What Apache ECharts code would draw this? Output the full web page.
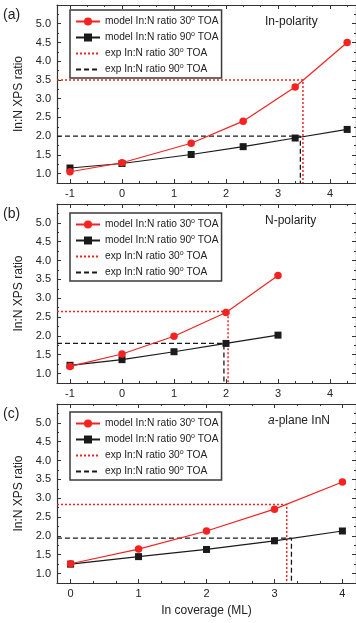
<!DOCTYPE html>
<html>
<head>
<meta charset="utf-8">
<script src="https://cdn.jsdelivr.net/npm/echarts@6/dist/echarts.min.js"></script>
<style>html,body{margin:0;padding:0;background:#fff;}#c{width:356px;height:623px;}</style>
</head>
<body>
<div id="c"></div>
<script>
// ---- data ----
const panelLabels = ['(a)', '(b)', '(c)'];
const panelTitles = ['In-polarity', 'N-polarity', 'a-plane InN'];
const yTicks = [1.0, 1.5, 2.0, 2.5, 3.0, 3.5, 4.0, 4.5, 5.0];
const yMinorTicks = [0.75, 1.25, 1.75, 2.25, 2.75, 3.25, 3.75, 4.25, 4.75, 5.25];
const xTicksAB = [-1, 0, 1, 2, 3, 4];
const xTicksC = [0, 1, 2, 3, 4];

const aX = [-1, 0, 1.33, 2.33, 3.33, 4.33];
const a30 = [1.05, 1.29, 1.81, 2.40, 3.31, 4.50];
const a90 = [1.15, 1.27, 1.51, 1.72, 1.95, 2.18];
const aExp30 = [3.48, 3.5];   // [coverage, ratio]
const aExp90 = [3.43, 2.0];

const bX = [-1, 0, 1, 2, 3];
const b30 = [1.19, 1.52, 1.99, 2.62, 3.60];
const b90 = [1.22, 1.37, 1.58, 1.80, 2.02];
const bExp30 = [2.04, 2.65];
const bExp90 = [1.96, 1.80];

const cX = [0, 1, 2, 3, 4];
const c30 = [1.26, 1.65, 2.13, 2.71, 3.43];
const c90 = [1.25, 1.45, 1.64, 1.87, 2.13];
const cExp30 = [3.18, 2.83];
const cExp90 = [3.25, 1.94];

const names = ['model In:N ratio 30° TOA', 'model In:N ratio 90° TOA', 'exp In:N ratio 30° TOA', 'exp In:N ratio 90° TOA'];

// ---- layout ----
const FONT = 'Liberation Sans, Arial, Helvetica, sans-serif';
const RED = '#f52222';
const BLK = '#1a1a1a';
const AX = '#333';
const Y_MIN = 0.75, Y_MAX = 5.5;
const panels = [
  {top: 5, height: 178, xMin: -1.25, xMax: 4.5, ticks: xTicksAB, x: aX, s30: a30, s90: a90, e30: aExp30, e90: aExp90, legTop: 10},
  {top: 204, height: 179, xMin: -1.25, xMax: 4.5, ticks: xTicksAB, x: bX, s30: b30, s90: b90, e30: bExp30, e90: bExp90, legTop: 213},
  {top: 404, height: 179, xMin: -0.2, xMax: 4.2, ticks: xTicksC, x: cX, s30: c30, s90: c90, e30: cExp30, e90: cExp90, legTop: 412}
];

function thirds(ticks, lo, hi) {
  const out = [];
  for (let i = -1; i < ticks.length; i++) {
    const t = i < 0 ? ticks[0] - 1 : ticks[i];
    [t + 1/3, t + 2/3].forEach(v => { if (v > lo && v < hi) out.push(v); });
  }
  return out;
}

const grid = [], xAxis = [], yAxis = [], series = [], legend = [], graphic = [];
panels.forEach((p, i) => {
  grid.push({left: 57, top: p.top, width: 302, height: p.height});
  const xi = xAxis.length, yi = yAxis.length;
  const minorX = thirds(p.ticks, p.xMin, p.xMax);
  const baseX = {type: 'value', gridIndex: i, min: p.xMin, max: p.xMax, splitLine: {show: false}};
  xAxis.push(Object.assign({}, baseX, {
    position: 'bottom',
    axisLine: {show: true, onZero: false, lineStyle: {color: AX, width: 1.2}},
    axisTick: {show: true, inside: true, length: 4, customValues: p.ticks, lineStyle: {color: AX}},
    axisLabel: {show: true, customValues: p.ticks, margin: 5, color: '#222', fontSize: 11, fontFamily: FONT},
    name: i === 2 ? 'In coverage (ML)' : '', nameLocation: 'middle', nameGap: 22,
    nameTextStyle: {fontSize: 12, color: '#222', fontFamily: FONT}
  }));
  xAxis.push(Object.assign({}, baseX, {
    position: 'bottom', axisLine: {show: false, onZero: false},
    axisTick: {show: true, inside: true, length: 2, customValues: minorX, lineStyle: {color: AX}},
    axisLabel: {show: false}
  }));
  xAxis.push(Object.assign({}, baseX, {
    position: 'top',
    axisLine: {show: true, onZero: false, lineStyle: {color: AX, width: 1.2}},
    axisTick: {show: true, inside: true, length: 4, customValues: p.ticks, lineStyle: {color: AX}},
    axisLabel: {show: false}
  }));
  xAxis.push(Object.assign({}, baseX, {
    position: 'top', axisLine: {show: false, onZero: false},
    axisTick: {show: true, inside: true, length: 2, customValues: minorX, lineStyle: {color: AX}},
    axisLabel: {show: false}
  }));
  const baseY = {type: 'value', gridIndex: i, min: Y_MIN, max: Y_MAX, splitLine: {show: false}};
  yAxis.push(Object.assign({}, baseY, {
    position: 'left',
    axisLine: {show: true, onZero: false, lineStyle: {color: AX, width: 1.2}},
    axisTick: {show: true, inside: true, length: 4, customValues: yTicks, lineStyle: {color: AX}},
    axisLabel: {show: true, customValues: yTicks, margin: 6, color: '#222', fontSize: 11, fontFamily: FONT,
      formatter: v => v.toFixed(1)},
    name: 'In:N XPS ratio', nameLocation: 'middle', nameGap: 27,
    nameTextStyle: {fontSize: 12, color: '#222', fontFamily: FONT}
  }));
  yAxis.push(Object.assign({}, baseY, {
    position: 'left', axisLine: {show: false, onZero: false},
    axisTick: {show: true, inside: true, length: 2, customValues: yMinorTicks, lineStyle: {color: AX}},
    axisLabel: {show: false}
  }));
  yAxis.push(Object.assign({}, baseY, {
    position: 'right',
    axisLine: {show: true, onZero: false, lineStyle: {color: AX, width: 1.2}},
    axisTick: {show: true, inside: true, length: 4, customValues: yTicks, lineStyle: {color: AX}},
    axisLabel: {show: false}
  }));
  yAxis.push(Object.assign({}, baseY, {
    position: 'right', axisLine: {show: false, onZero: false},
    axisTick: {show: true, inside: true, length: 2, customValues: yMinorTicks, lineStyle: {color: AX}},
    axisLabel: {show: false}
  }));

  const common = {xAxisIndex: xi, yAxisIndex: yi, animation: false, silent: true};
  series.push(Object.assign({}, common, {
    type: 'line', name: names[2], symbol: 'none', z: 1,
    lineStyle: {color: RED, width: 1.5, type: [2, 2]}, itemStyle: {color: RED},
    data: [[p.xMin, p.e30[1]], [p.e30[0], p.e30[1]], [p.e30[0], Y_MIN]]
  }));
  series.push(Object.assign({}, common, {
    type: 'line', name: names[3], symbol: 'none', z: 1,
    lineStyle: {color: BLK, width: 1.3, type: [5, 3]}, itemStyle: {color: BLK},
    data: [[p.xMin, p.e90[1]], [p.e90[0], p.e90[1]], [p.e90[0], Y_MIN]]
  }));
  series.push(Object.assign({}, common, {
    type: 'line', name: names[1], symbol: 'rect', symbolSize: 7, z: 2,
    lineStyle: {color: BLK, width: 1.2}, itemStyle: {color: BLK},
    data: p.x.map((x, k) => [x, p.s90[k]])
  }));
  series.push(Object.assign({}, common, {
    type: 'line', name: names[0], symbol: 'circle', symbolSize: 7.5, z: 3,
    lineStyle: {color: RED, width: 1.2}, itemStyle: {color: RED},
    data: p.x.map((x, k) => [x, p.s30[k]])
  }));

  legend.push({
    orient: 'vertical', left: 70, top: p.legTop,
    data: [names[0], names[1],
      {name: names[2], itemStyle: {opacity: 0}},
      {name: names[3], itemStyle: {opacity: 0}}],
    padding: [5, 3, 3, 5], itemGap: 4, itemWidth: 24, itemHeight: 10,
    borderColor: '#3a3a3a', borderWidth: 1.5, selectedMode: false,
    formatter: n => n.replace('° TOA', '{s|o} TOA'),
    textStyle: {fontSize: 10.2, lineHeight: 11, color: '#222', fontFamily: FONT,
      rich: {s: {fontSize: 7, padding: [0, 0, 6, 0], fontFamily: FONT, color: '#222'}}}
  });

  graphic.push({type: 'text', left: 3, top: p.top + 3,
    style: {text: panelLabels[i], fontSize: 14, fill: '#222', fontFamily: FONT}});
  if (i < 2) {
    graphic.push({type: 'text', left: 265, top: p.top + 11,
      style: {text: panelTitles[i], fontSize: 12, fill: '#222', fontFamily: FONT}});
  } else {
    graphic.push({type: 'text', left: 268, top: p.top + 11,
      style: {text: '{i|a}-plane InN', fontSize: 12, fill: '#222', fontFamily: FONT,
        rich: {i: {fontStyle: 'italic', fontSize: 12, fontFamily: FONT, fill: '#222'}}}});
  }
});

const chart = echarts.init(document.getElementById('c'), null, {renderer: 'canvas'});
chart.setOption({animation: false, backgroundColor: '#fff', grid, xAxis, yAxis, series, legend, graphic});
</script>
</body>
</html>
